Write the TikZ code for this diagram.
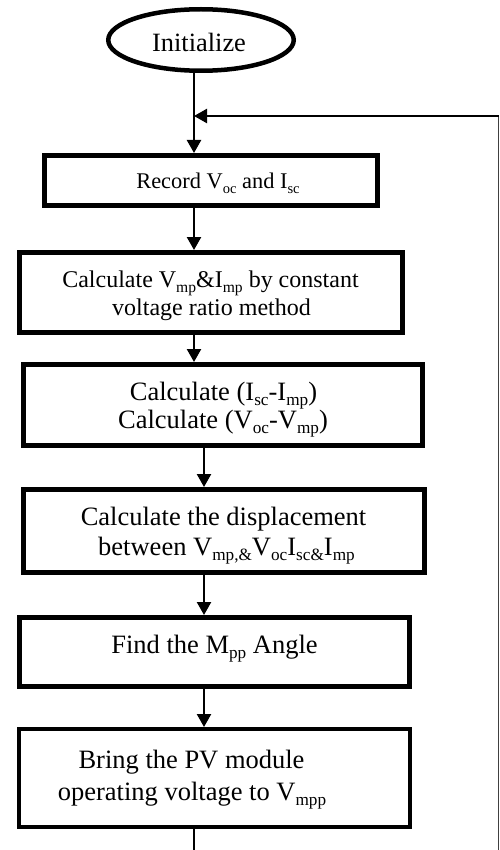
\documentclass[tikz,border=0pt]{standalone}
\usepackage{fontspec}
\setmainfont{Liberation Serif}
\usetikzlibrary{arrows.meta,shapes.geometric}
\newcommand\sbs[1]{\raisebox{-0.22em}{\scalebox{0.65}{#1}}}
\begin{document}
\begin{tikzpicture}[x=1pt,y=-1pt,
  box/.style={draw,line width=5pt,inner sep=0pt,rectangle},
  txt/.style={anchor=base,inner sep=0pt,font=\fontsize{26.5}{30}\selectfont},
  arr/.style={line width=2.4pt,-{Triangle[width=14pt,length=13pt]}},
  conn/.style={line width=2.4pt},
  back/.style={line width=1.5pt,black!75}]
\useasboundingbox (0,0) rectangle (499,850);
% start
\node[draw,ellipse,line width=4.5pt,minimum width=185.5pt,minimum height=61.5pt,inner sep=0pt] (e) at (201,40) {};
\node[txt,font=\fontsize{26.4}{30}\selectfont] (t0) at (199,52) {Initialize};
% boxes
\node[box,minimum width=333pt,minimum height=50pt] (b1) at (211,180.5) {};
\node[box,minimum width=383pt,minimum height=80pt] (b2) at (211,292.5) {};
\node[box,minimum width=399pt,minimum height=81pt] (b3) at (223,405) {};
\node[box,minimum width=401pt,minimum height=83pt] (b4) at (224,531) {};
\node[box,minimum width=390pt,minimum height=69pt] (b5) at (214.5,652) {};
\node[box,line width=4pt,minimum width=391pt,minimum height=98pt] (b6) at (214.5,778) {};
% texts
\node[txt,font=\fontsize{22.4}{28}\selectfont] (t1) at (218,189) {Record V\sbs{oc} and I\sbs{sc}};
\node[txt,font=\fontsize{24}{28}\selectfont] (t2a) at (210.5,287) {Calculate V\sbs{mp}\&I\sbs{mp} by constant};
\node[txt,font=\fontsize{24}{28}\selectfont] (t2b) at (211.5,315) {voltage ratio method};
\node[txt] (t3a) at (223.5,400) {Calculate (I\sbs{sc}-I\sbs{mp})};
\node[txt] (t3b) at (223,428) {Calculate (V\sbs{oc}-V\sbs{mp})};
\node[txt] (t4a) at (223.5,525) {Calculate the displacement};
\node[txt] (t4b) at (226.5,555) {between V\sbs{mp,\&}V\sbs{oc}I\sbs{sc\&}I\sbs{mp}};
\node[txt] (t5) at (214.5,653) {Find the M\sbs{pp} Angle};
\node[txt] (t6a) at (191.5,768) {Bring the PV module};
\node[txt] (t6b) at (192,800) {operating voltage to V\sbs{mpp}};
% connector guides
\coordinate (xa) at (194,0);
\coordinate (xb) at (204,0);
\coordinate (j) at (194,116);
\coordinate (rt) at (498.5,116);
\coordinate (rb) at (498.5,850);
\coordinate (bot) at (194,850);
% connectors
\draw[arr] (e.south -| xa) -- (b1.north -| xa);
\draw[arr] (b1.south -| xa) -- (b2.north -| xa);
\draw[arr] (b2.south -| xa) -- (b3.north -| xa);
\draw[arr] (b3.south -| xb) -- (b4.north -| xb);
\draw[arr] (b4.south -| xb) -- (b5.north -| xb);
\draw[arr] (b5.south -| xb) -- (b6.north -| xb);
\draw[conn] (b6.south -| xa) -- (bot);
\draw[back] (rb) -- (rt);
\draw[arr] (rt) -- (j);
\end{tikzpicture}
\end{document}
